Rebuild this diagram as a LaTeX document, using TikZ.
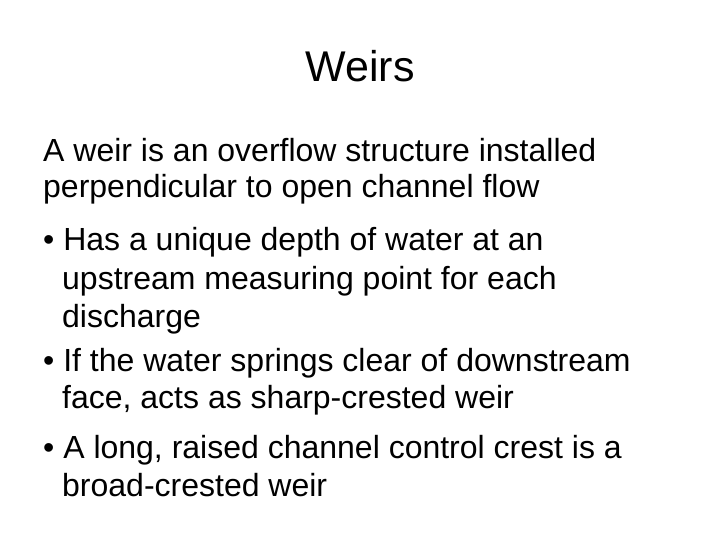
\documentclass[tikz,border=0pt]{standalone}
\usepackage{fontspec}
\setmainfont{Liberation Sans}
\begin{document}
\begin{tikzpicture}[x=1pt,y=-1pt,
  body/.style={anchor=base west,inner sep=0pt,font=\fontsize{32}{34}\selectfont}]
\useasboundingbox (0,0) rectangle (720,540);
\node[anchor=base,inner sep=0pt,font=\fontsize{43}{46}\selectfont] (t) at (360,82) {Weirs};
\node[body] (l1) at (43,162) {A weir is an overflow structure installed};
\node[body] (l2) at (43,198) {perpendicular to open channel flow};
\node[body] (b1) at (43,251) {\textbullet\ Has a unique depth of water at an};
\node[body] (b1b) at (62,289) {upstream measuring point for each};
\node[body] (b1c) at (62,327) {discharge};
\node[body] (b2) at (43,371) {\textbullet\ If the water springs clear of downstream};
\node[body] (b2b) at (62,408) {face, acts as sharp-crested weir};
\node[body] (b3) at (43,458) {\textbullet\ A long, raised channel control crest is a};
\node[body] (b3b) at (62,496) {broad-crested weir};
\end{tikzpicture}
\end{document}
